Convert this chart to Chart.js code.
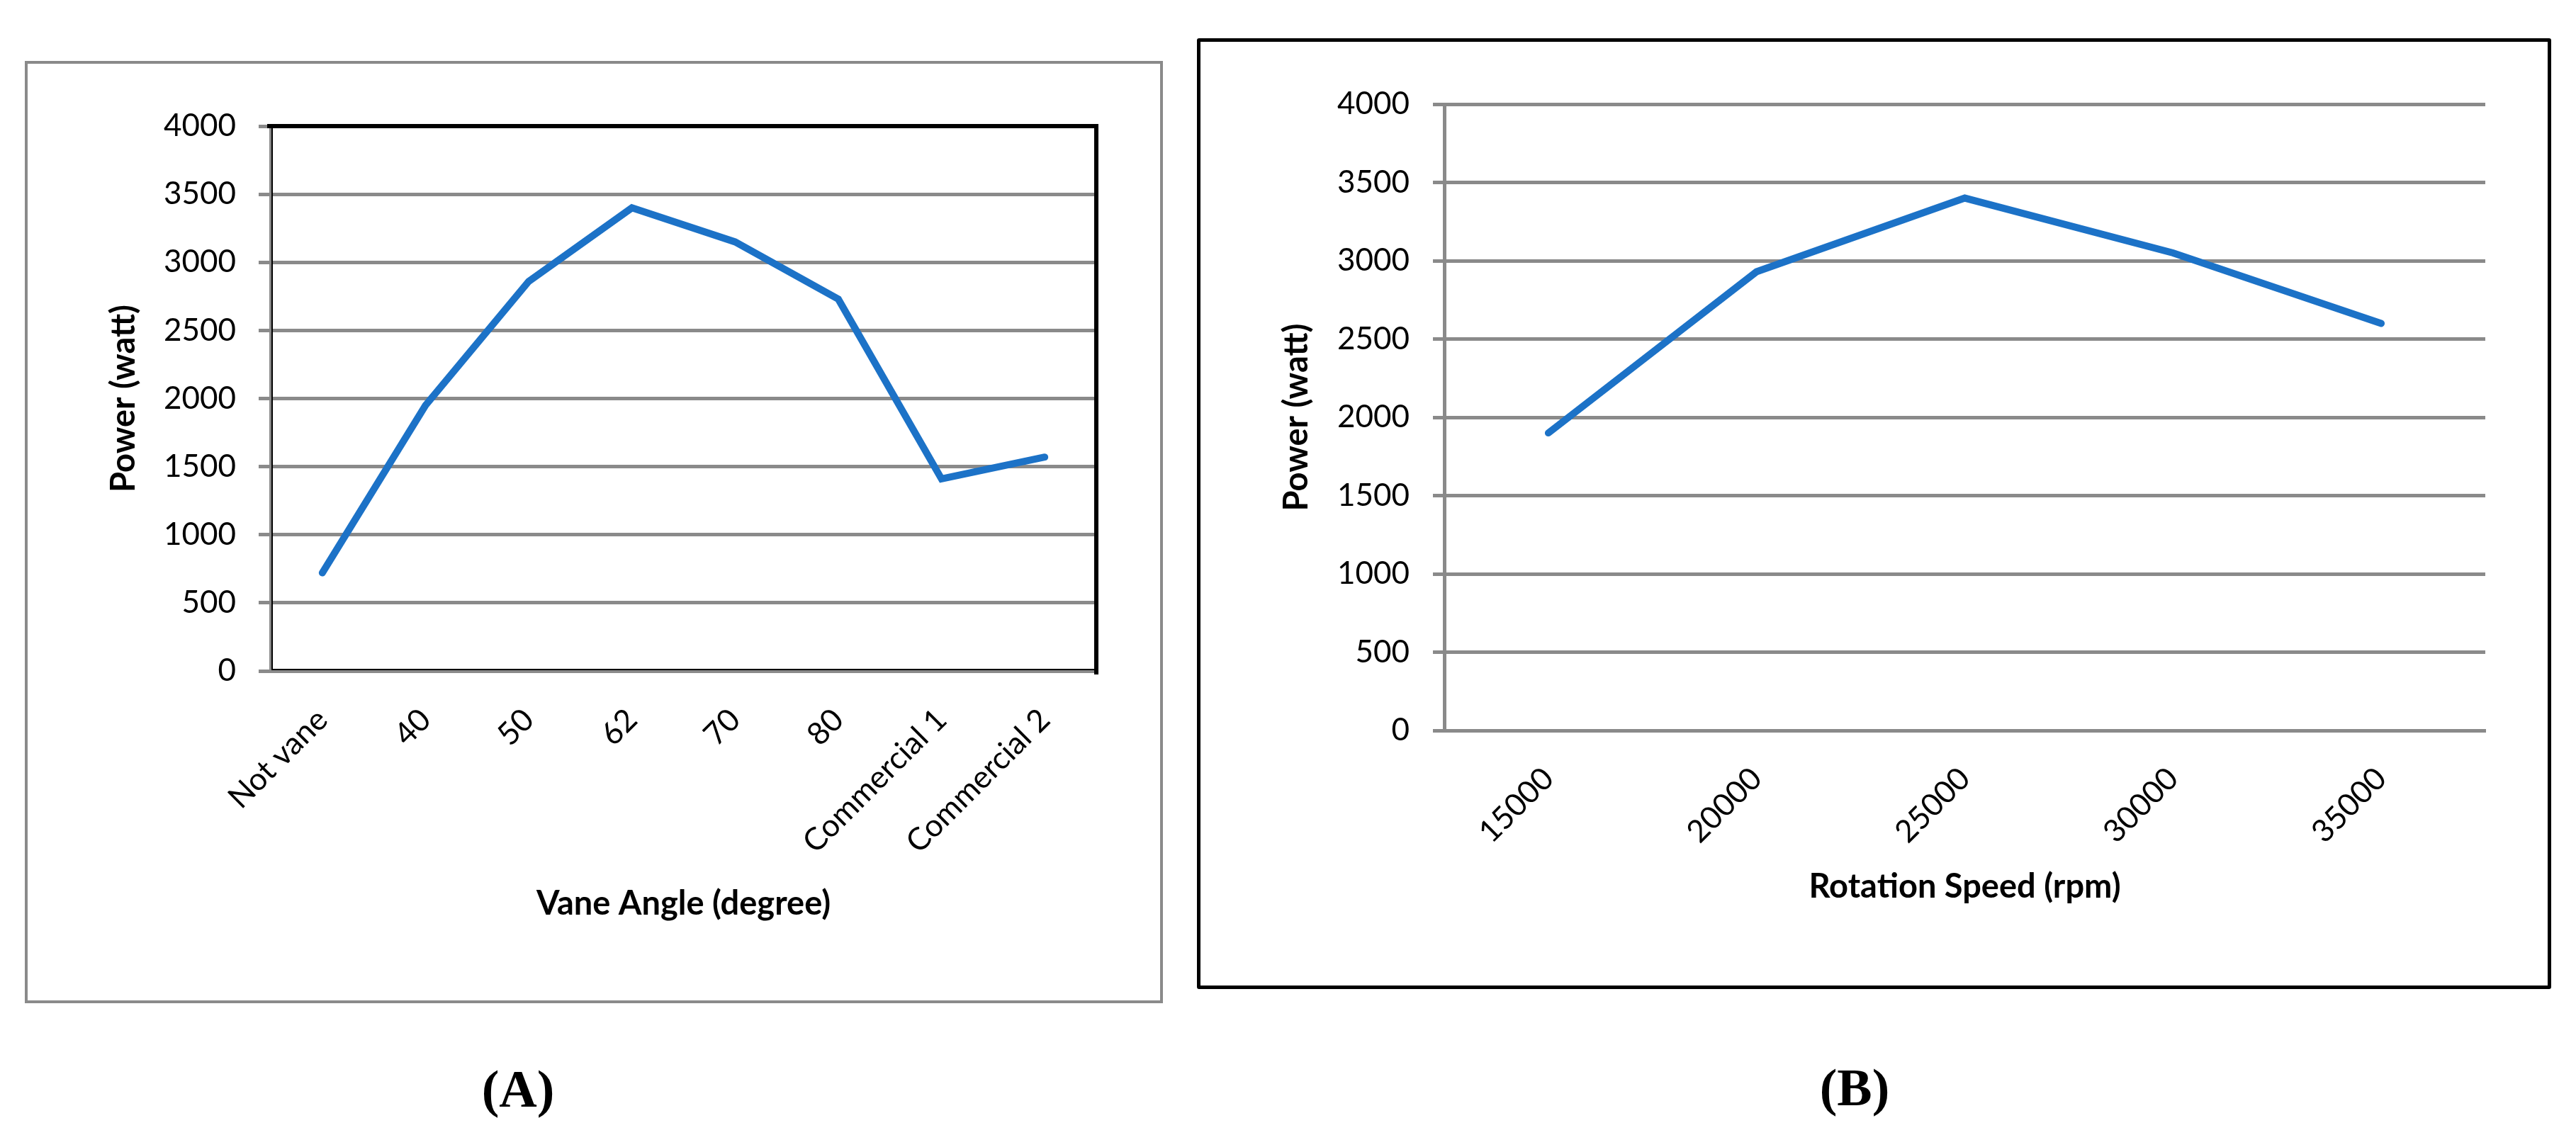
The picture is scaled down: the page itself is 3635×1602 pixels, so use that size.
<!DOCTYPE html>
<html>
<head>
<meta charset="utf-8">
<script src="https://cdn.jsdelivr.net/npm/chart.js@4.4.1/dist/chart.umd.min.js"></script>
<style>
  html, body { margin: 0; padding: 0; background: #ffffff; }
  body { width: 3635px; height: 1602px; position: relative; overflow: hidden; }
  .panel { position: absolute; box-sizing: border-box; background: #fff; }
  #panelA { left: 35px; top: 86px; width: 1606px; height: 1330px; border: 4px solid #8a8a8a; }
  #panelB { left: 1689px; top: 54px; width: 1911px; height: 1342px; border: 5px solid #000; border-radius: 3px; }
  canvas { display: block; }
  .label { position: absolute; font-family: "Liberation Serif", "Times New Roman", Times, serif; font-weight: bold; font-size: 74px; line-height: 74px; color: #000; transform: translateX(-50%); white-space: nowrap; }
</style>
</head>
<body>
<div class="panel" id="panelA"><canvas id="chartA" width="1598" height="1322"></canvas></div>
<div class="panel" id="panelB"><canvas id="chartB" width="1901" height="1332"></canvas></div>
<div class="label" style="left:731px; top:1500px;">(A)</div>
<div class="label" style="left:2617px; top:1498px;">(B)</div>
<script>
// ---- Data ----
const categoriesA = ['Not vane', '40', '50', '62', '70', '80', 'Commercial 1', 'Commercial 2'];
const powerA = [720, 1950, 2860, 3400, 3150, 2730, 1410, 1570];

const categoriesB = ['15000', '20000', '25000', '30000', '35000'];
const powerB = [1900, 2930, 3400, 3050, 2600];

const yTickValues = [0, 500, 1000, 1500, 2000, 2500, 3000, 3500, 4000];

const xTitleA = 'Vane Angle (degree)';
const xTitleB = 'Rotation Speed (rpm)';
const yTitle = 'Power (watt)';

// ---- Styling ----
const FONT = 'Lato, "Open Sans", "DejaVu Sans", sans-serif';
const GRAY = '#8a8a8a';
const BLUE = '#1c72c7';

const framePlugin = {
  id: 'frameA',
  beforeDatasetsDraw(chart) {
    const { ctx, chartArea: a } = chart;
    ctx.save();
    ctx.strokeStyle = '#000';
    ctx.lineCap = 'square';
    ctx.lineWidth = 6;
    ctx.beginPath();
    ctx.moveTo(a.left - 2, a.top);
    ctx.lineTo(a.right, a.top);
    ctx.lineTo(a.right, a.bottom + 2);
    ctx.stroke();
    ctx.lineWidth = 2;
    ctx.lineCap = 'butt';
    ctx.beginPath();
    ctx.moveTo(a.left + 2, a.top);
    ctx.lineTo(a.left + 2, a.bottom - 2);
    ctx.lineTo(a.right, a.bottom - 2);
    ctx.stroke();
    ctx.restore();
  }
};

function makeChart(canvasId, cats, vals, xTitle, dims, extraPlugins) {
  const ctx = document.getElementById(canvasId);
  return new Chart(ctx, {
    type: 'line',
    data: {
      labels: cats,
      datasets: [{
        data: vals,
        borderColor: BLUE,
        backgroundColor: BLUE,
        borderWidth: 10,
        borderCapStyle: 'round',
        borderJoinStyle: 'miter',
        pointRadius: 0,
        pointHoverRadius: 0,
        tension: 0,
        fill: false
      }]
    },
    options: {
      responsive: false,
      animation: false,
      devicePixelRatio: 1,
      events: [],
      layout: { padding: { top: dims.padTop, right: dims.padRight, left: 0, bottom: 0 } },
      plugins: { legend: { display: false }, tooltip: { enabled: false } },
      scales: {
        x: {
          type: 'category',
          offset: true,
          grid: { display: false, drawTicks: false },
          border: { display: true, color: GRAY, width: 5 },
          ticks: {
            autoSkip: false,
            minRotation: 45,
            maxRotation: 45,
            padding: dims.xTickPad,
            color: '#000',
            font: { family: FONT, size: 44 }
          },
          title: {
            display: true,
            text: xTitle,
            color: '#000',
            font: { family: FONT, size: 47, weight: 'bold' },
            padding: { top: 0, bottom: dims.xTitlePad }
          },
          afterFit(scale) { scale.height = dims.xHeight; }
        },
        y: {
          type: 'linear',
          min: yTickValues[0],
          max: yTickValues[yTickValues.length - 1],
          afterBuildTicks(scale) { scale.ticks = yTickValues.map(v => ({ value: v })); },
          grid: { color: GRAY, lineWidth: 5, drawTicks: true, tickLength: dims.tickLen },
          border: { display: true, color: GRAY, width: 5 },
          ticks: {
            padding: dims.yTickPad,
            color: '#000',
            font: { family: FONT, size: 44 },
            callback: (v) => String(v)
          },
          title: {
            display: true,
            text: yTitle,
            color: '#000',
            font: { family: FONT, size: 47, weight: 'bold' },
            padding: { top: dims.yTitlePad, bottom: 0 }
          },
          afterFit(scale) { scale.width = dims.yWidth; }
        }
      }
    },
    plugins: extraPlugins || []
  });
}

makeChart('chartA', categoriesA, powerA, xTitleA, {
  padTop: 88, padRight: 90, yWidth: 343, xHeight: 465,
  tickLen: 17, yTickPad: 32, xTickPad: 43, yTitlePad: 108, xTitlePad: 108
}, [framePlugin]);

makeChart('chartB', categoriesB, powerB, xTitleB, {
  padTop: 88, padRight: 88, yWidth: 344, xHeight: 360,
  tickLen: 16, yTickPad: 33, xTickPad: 42, yTitlePad: 108, xTitlePad: 111
});
</script>
</body>
</html>
